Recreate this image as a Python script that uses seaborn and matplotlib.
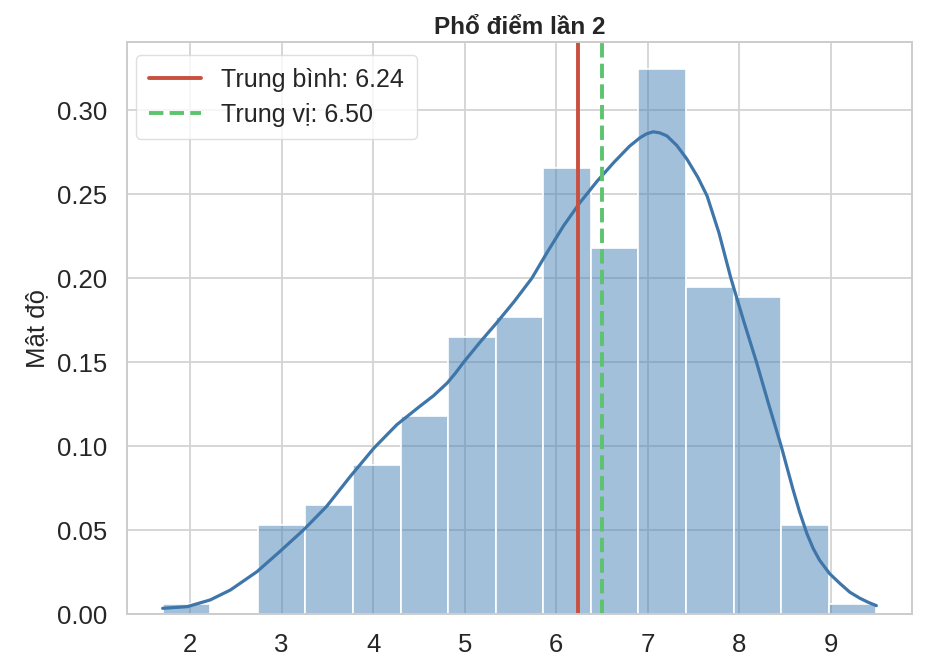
import numpy as np
import pandas as pd
import matplotlib
matplotlib.use("Agg")
import matplotlib.pyplot as plt
import seaborn as sns
from matplotlib.ticker import FormatStrFormatter

# ---- data ----
bin_start = 1.7
bin_width = 0.52
bin_counts = [1, 0, 9, 11, 15, 20, 28, 30, 45, 37, 55, 33, 32, 9, 1]

kde_x = [1.70, 1.97, 2.22, 2.44, 2.73, 2.98, 3.24, 3.49, 3.75, 4.01, 4.26,
         4.51, 4.66, 4.81, 4.90, 4.99, 5.17, 5.35, 5.54, 5.735, 5.90, 6.08,
         6.26, 6.45, 6.63, 6.80, 6.92, 6.99, 7.06, 7.13, 7.21, 7.32, 7.43,
         7.55, 7.65, 7.78, 7.91, 8.05, 8.19, 8.32, 8.46, 8.59, 8.66, 8.74,
         8.81, 8.88, 8.99, 9.10, 9.21, 9.32, 9.41, 9.50]
kde_y = [0.0034, 0.0044, 0.0084, 0.0143, 0.0252, 0.0372, 0.0501, 0.0640,
         0.0819, 0.0989, 0.1128, 0.1237, 0.1300, 0.1376, 0.1435, 0.1500,
         0.1620, 0.1734, 0.1860, 0.2000, 0.2152, 0.2311, 0.2450, 0.2579,
         0.2689, 0.2785, 0.2838, 0.2860, 0.2872, 0.2866, 0.2848, 0.2790,
         0.2709, 0.2600, 0.2490, 0.2270, 0.2000, 0.1745, 0.1500, 0.1255,
         0.1000, 0.0740, 0.0610, 0.0480, 0.0390, 0.0320, 0.0240, 0.0183,
         0.0130, 0.0094, 0.0070, 0.0050]

mean_val = 6.24
median_val = 6.50
x_ticks = [2, 3, 4, 5, 6, 7, 8, 9]

title = "Phổ điểm lần 2"
ylabel = "Mật độ"
xlabel = "Điểm (x)"

# ---- plotting ----
sns.set_theme(style="whitegrid")
plt.rcParams["font.family"] = ["Liberation Sans", "DejaVu Sans"]

edges = [float(bin_start + bin_width * i) for i in range(len(bin_counts) + 1)]
centers = [(edges[i] + edges[i + 1]) / 2 for i in range(len(bin_counts))]
hist_df = pd.DataFrame({"score": centers, "count": bin_counts})
kde_df = pd.DataFrame({"x": kde_x, "y": kde_y})

fig = plt.figure(figsize=(9.42, 6.68), dpi=100)
ax = fig.add_axes([0.1348, 0.0808, 0.8334, 0.8563])

sns.histplot(data=hist_df, x="score", weights="count", bins=edges,
             stat="density", color="steelblue", alpha=0.5,
             edgecolor="white", linewidth=1.2, ax=ax)
sns.lineplot(data=kde_df, x="x", y="y", color="#3f76aa", linewidth=2.3,
             ax=ax, sort=True)

ax.axvline(mean_val, color="#c9503f", linestyle="-", linewidth=2.8,
           label=f"Trung bình: {mean_val:.2f}")
ax.axvline(median_val, color="#5cc46e", linestyle="--", linewidth=2.8,
           label=f"Trung vị: {median_val:.2f}")

ax.set_xticks(x_ticks)
ax.set_yticks(np.arange(0, 0.31, 0.05))
ax.yaxis.set_major_formatter(FormatStrFormatter("%.2f"))
ax.tick_params(axis="both", labelsize=18.5, pad=8)

ax.set_title(title, fontsize=17.5, fontweight="bold", pad=6)
ax.set_ylabel(ylabel, fontsize=18.5, labelpad=6)
ax.set_xlabel(xlabel, fontsize=18.5, labelpad=12)

for sp in ax.spines.values():
    sp.set_color("#cccccc")
    sp.set_linewidth(1.4)
ax.grid(color="#d3d3d3", linewidth=1.3)

leg = ax.legend(loc="upper left", fontsize=18, frameon=True,
                handlelength=2.1, borderpad=0.5, labelspacing=0.45,
                handletextpad=0.8, bbox_to_anchor=(-0.004, 0.999))
leg.get_frame().set_edgecolor("#d8d8d8")

fig.savefig("out.png", dpi=100)
